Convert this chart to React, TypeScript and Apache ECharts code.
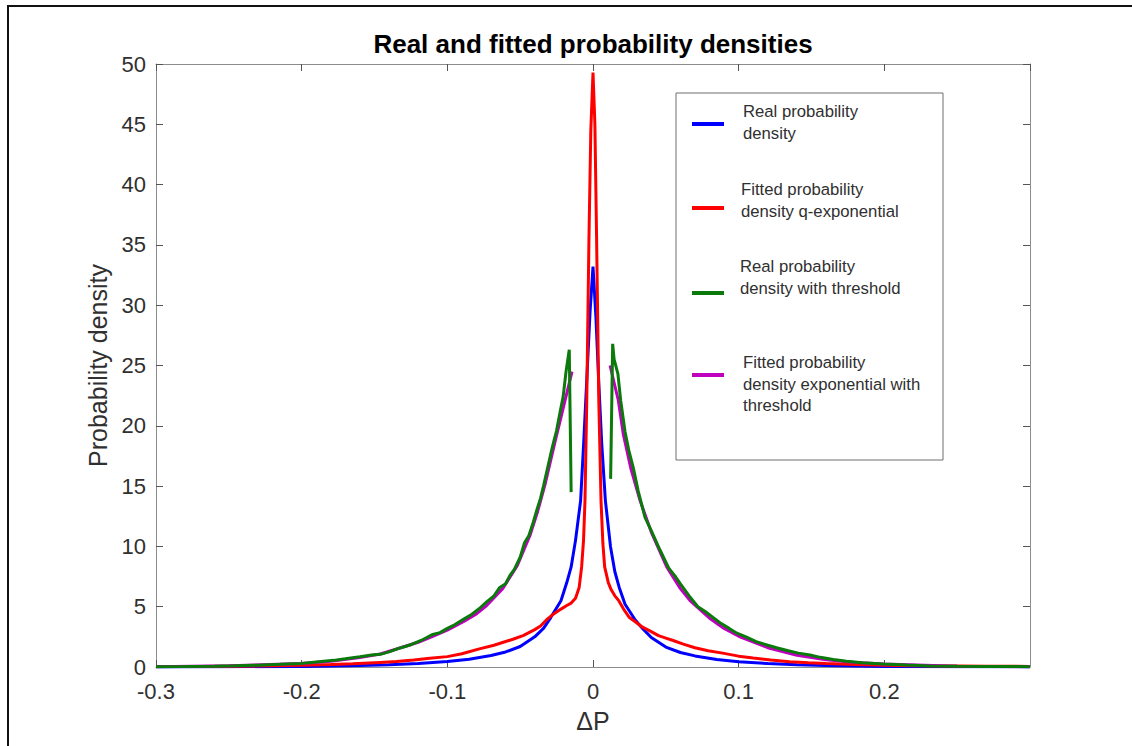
import React, { useEffect, useRef } from "react";
import * as echarts from "echarts";

const TITLE = "Real and fitted probability densities";
const X_NAME = "ΔP";
const Y_NAME = "Probability density";
const SERIES_NAMES = [
  "Real probability\ndensity",
  "Fitted probability\ndensity q-exponential",
  "Real probability\ndensity with threshold",
  "Fitted probability\ndensity exponential with\nthreshold",
];
const SERIES_COLORS = ["#0000ff", "#ff0000", "#0a7a0a", "#bf00bf"];
const X_TICKS = [-0.3, -0.2, -0.1, 0, 0.1, 0.2];
const Y_TICKS = [0, 5, 10, 15, 20, 25, 30, 35, 40, 45, 50];

// Real probability density (blue)
const realDensity: [number, number][] = [
  [-0.3, 0.01], [-0.25, 0.02], [-0.2, 0.05], [-0.18, 0.08], [-0.16, 0.12], [-0.14, 0.19],
  [-0.12, 0.3], [-0.1, 0.45], [-0.085, 0.65], [-0.07, 0.95], [-0.06, 1.25], [-0.05, 1.7],
  [-0.04, 2.5], [-0.034, 3.2], [-0.029, 4.1], [-0.022, 5.5], [-0.018, 7.0], [-0.015, 8.3],
  [-0.012, 10.5], [-0.0085, 13.8], [-0.0063, 18.8], [-0.004, 24.5], [-0.002, 29.5], [0, 33.2],
  [0.002, 29.0], [0.004, 23.5], [0.006, 18.5], [0.0085, 13.8], [0.012, 10.0], [0.015, 7.9],
  [0.018, 6.6], [0.022, 5.2], [0.029, 3.9], [0.034, 3.2], [0.04, 2.45], [0.05, 1.65],
  [0.06, 1.2], [0.07, 0.92], [0.085, 0.63], [0.1, 0.44], [0.12, 0.29], [0.14, 0.19],
  [0.16, 0.12], [0.18, 0.08], [0.2, 0.05], [0.25, 0.02], [0.2999, 0.01],
];

// Fitted probability density q-exponential (red)
const fittedQExp: [number, number][] = [
  [-0.3, 0.04], [-0.27, 0.05], [-0.25, 0.07], [-0.22, 0.1], [-0.2, 0.14], [-0.18, 0.2],
  [-0.165, 0.26], [-0.146, 0.38], [-0.135, 0.45], [-0.123, 0.58], [-0.112, 0.72], [-0.1, 0.86],
  [-0.09, 1.1], [-0.078, 1.5], [-0.068, 1.8], [-0.055, 2.3], [-0.048, 2.6], [-0.04, 3.1],
  [-0.036, 3.4], [-0.032, 3.9], [-0.027, 4.4], [-0.022, 4.8], [-0.018, 5.1], [-0.015, 5.3],
  [-0.012, 5.7], [-0.0095, 6.6], [-0.0078, 8.3], [-0.0065, 10.5], [-0.0055, 13.8], [-0.0043, 22],
  [-0.0028, 35.3], [-0.0015, 44.5], [0, 49.3], [0.0013, 45], [0.0025, 35.3], [0.004, 22],
  [0.0055, 13.8], [0.0068, 10.2], [0.008, 8.3], [0.0105, 7.0], [0.0125, 6.4], [0.015, 5.9],
  [0.0177, 5.5], [0.021, 4.8], [0.025, 4.1], [0.029, 3.75], [0.034, 3.3], [0.039, 3.0],
  [0.045, 2.6], [0.05, 2.4], [0.055, 2.2], [0.062, 1.9], [0.07, 1.6], [0.079, 1.35],
  [0.089, 1.15], [0.1, 0.9], [0.11, 0.75], [0.122, 0.58], [0.135, 0.43], [0.148, 0.36],
  [0.16, 0.3], [0.18, 0.21], [0.2, 0.15], [0.22, 0.11], [0.25, 0.08], [0.27, 0.06], [0.2999, 0.05],
];

// Real probability density with threshold (green), negative branch
const realThresholdNeg: [number, number][] = [
  [-0.3, 0.03], [-0.28, 0.04], [-0.26, 0.07], [-0.246, 0.1], [-0.23, 0.15], [-0.215, 0.22],
  [-0.2, 0.3], [-0.19, 0.42], [-0.178, 0.55], [-0.17, 0.68], [-0.16, 0.85], [-0.152, 1.0],
  [-0.146, 1.05], [-0.14, 1.25], [-0.132, 1.6], [-0.125, 1.85], [-0.118, 2.2], [-0.11, 2.7],
  [-0.105, 2.85], [-0.1, 3.2], [-0.095, 3.5], [-0.089, 3.95], [-0.084, 4.3], [-0.078, 4.85],
  [-0.073, 5.4], [-0.068, 5.9], [-0.064, 6.6], [-0.06, 6.9], [-0.057, 7.6], [-0.054, 8.1],
  [-0.05, 9.1], [-0.047, 10.3], [-0.044, 10.9], [-0.041, 12.0], [-0.0386, 13.0], [-0.036, 14.0],
  [-0.034, 15.0], [-0.031, 16.6], [-0.028, 18.2], [-0.025, 19.6], [-0.0225, 21.2],
  [-0.0205, 22.4], [-0.0185, 24.5], [-0.0163, 26.3], [-0.015, 14.5],
];
// Real probability density with threshold (green), positive branch
const realThresholdPos: [number, number][] = [
  [0.0121, 15.6], [0.0135, 26.8], [0.0145, 25.5], [0.0171, 24.3], [0.019, 22.1], [0.022, 19.5],
  [0.0245, 18.0], [0.0277, 16.5], [0.031, 14.6], [0.0357, 12.4], [0.04, 11.3], [0.046, 9.7],
  [0.052, 8.2], [0.056, 7.6], [0.06, 6.9], [0.066, 5.9], [0.072, 5.0], [0.077, 4.6],
  [0.0824, 4.1], [0.088, 3.6], [0.0935, 3.2], [0.0988, 2.8], [0.105, 2.5], [0.112, 2.1],
  [0.12, 1.8], [0.126, 1.6], [0.134, 1.35], [0.141, 1.15], [0.149, 1.0], [0.156, 0.8],
  [0.165, 0.62], [0.174, 0.47], [0.185, 0.35], [0.199, 0.25], [0.215, 0.16], [0.231, 0.09],
  [0.25, 0.06], [0.27, 0.04], [0.2999, 0.03],
];

// Fitted probability density exponential with threshold (magenta)
const fittedExpNeg: [number, number][] = [
  [-0.3, 0.03], [-0.25, 0.1], [-0.2, 0.3], [-0.18, 0.48], [-0.16, 0.78], [-0.146, 1.08],
  [-0.132, 1.6], [-0.12, 2.05], [-0.11, 2.55], [-0.1, 3.05], [-0.089, 3.75], [-0.08, 4.4],
  [-0.073, 5.1], [-0.062, 6.5], [-0.052, 8.4], [-0.043, 11.0], [-0.038, 12.9], [-0.033, 15.1],
  [-0.026, 18.7], [-0.021, 21.2], [-0.0174, 23.0], [-0.0144, 24.5],
];
const fittedExpPos: [number, number][] = [
  [0.0117, 25.0], [0.0174, 22.1], [0.0208, 19.3], [0.0259, 16.5], [0.0323, 13.8],
  [0.0403, 11.1], [0.0506, 8.3], [0.06, 6.5], [0.0666, 5.5], [0.08, 4.05], [0.09, 3.2],
  [0.1, 2.55], [0.12, 1.6], [0.14, 0.98], [0.16, 0.6], [0.18, 0.38], [0.2, 0.24],
  [0.25, 0.07], [0.2999, 0.02],
];

const FONT = '"Liberation Sans", Arial, Helvetica, sans-serif';
const AXIS_COLOR = "#8c8c8c";
const TEXT_COLOR = "#303030";

export default function App() {
  const ref = useRef<HTMLDivElement>(null);
  useEffect(() => {
    if (!ref.current) return;
    const chart = echarts.init(ref.current, undefined, { renderer: "svg" });

    const line = (name: string, data: [number, number][], color: string, z: number) => ({
      name,
      type: "line",
      data,
      showSymbol: false,
      symbol: "none",
      clip: true,
      silent: true,
      z,
      lineStyle: { color, width: 3 },
      itemStyle: { color },
    });

    const fmtX = (v: number) => {
      const r = Number(v.toFixed(4));
      if (!X_TICKS.some((t) => Math.abs(t - r) < 1e-6)) return "";
      return r === 0 ? "0" : String(r);
    };
    const fmtY = (v: number) => {
      const r = Number(v.toFixed(4));
      return Y_TICKS.some((t) => Math.abs(t - r) < 1e-6) ? String(r) : "";
    };

    const legendTop = [101, 179, 256, 352];
    const legendLineY = [124, 208, 293, 375];
    const legendTextX = [743, 741, 740, 743];
    const legendGraphics: any[] = [
      {
        type: "rect",
        shape: { x: 676, y: 93, width: 267, height: 367 },
        style: { fill: "#ffffff", stroke: "#6e6e6e", lineWidth: 1 },
        z: 10,
      },
    ];
    SERIES_NAMES.forEach((name, i) => {
      legendGraphics.push({
        type: "line",
        shape: { x1: 692, y1: legendLineY[i], x2: 724, y2: legendLineY[i] },
        style: { stroke: SERIES_COLORS[i], lineWidth: 4 },
        z: 11,
      });
      legendGraphics.push({
        type: "text",
        x: legendTextX[i],
        y: legendTop[i],
        style: {
          text: name,
          fill: TEXT_COLOR,
          fontSize: 16.7,
          fontFamily: FONT,
          lineHeight: 21.5,
          verticalAlign: "top",
          align: "left",
        },
        z: 11,
      });
    });

    const xBase = {
      type: "value",
      min: -0.3,
      max: 0.3,
      interval: 0.1,
      splitLine: { show: false },
      axisLine: { show: true, onZero: false, lineStyle: { color: AXIS_COLOR, width: 1 } },
      axisTick: { show: true, inside: true, length: 7, lineStyle: { color: "#555" } },
    };
    const yBase = {
      type: "value",
      min: 0,
      max: 50,
      interval: 5,
      splitLine: { show: false },
      axisLine: { show: true, onZero: false, lineStyle: { color: AXIS_COLOR, width: 1 } },
      axisTick: { show: true, inside: true, length: 7, lineStyle: { color: "#555" } },
    };

    chart.setOption({
      animation: false,
      backgroundColor: "#ffffff",
      title: {
        text: TITLE,
        left: 593,
        top: 31,
        padding: 0,
        textAlign: "center",
        textStyle: { fontFamily: FONT, fontSize: 26, fontWeight: "bold", color: "#000" },
      },
      grid: { left: 156, right: 102, top: 64, bottom: 79, containLabel: false },
      xAxis: [
        {
          ...xBase,
          position: "bottom",
          name: X_NAME,
          nameLocation: "middle",
          nameGap: 41,
          nameTextStyle: { fontFamily: FONT, fontSize: 25, color: TEXT_COLOR },
          axisLabel: {
            show: true,
            margin: 13,
            fontSize: 22,
            fontFamily: FONT,
            color: TEXT_COLOR,
            showMaxLabel: false,
            formatter: fmtX,
          },
        },
        { ...xBase, position: "top", axisLabel: { show: false } },
      ],
      yAxis: [
        {
          ...yBase,
          position: "left",
          name: Y_NAME,
          nameLocation: "middle",
          nameGap: 37,
          nameTextStyle: { fontFamily: FONT, fontSize: 25, color: TEXT_COLOR },
          axisLabel: {
            show: true,
            margin: 10,
            fontSize: 22,
            fontFamily: FONT,
            color: TEXT_COLOR,
            formatter: fmtY,
          },
        },
        { ...yBase, position: "right", axisLabel: { show: false } },
      ],
      graphic: [
        {
          type: "rect",
          shape: { x: 8, y: 6, width: 1300, height: 900 },
          style: { fill: "transparent", stroke: "#111111", lineWidth: 2 },
          silent: true,
          z: 20,
        },
        ...legendGraphics,
      ],
      series: [
        line(SERIES_NAMES[0], realDensity, SERIES_COLORS[0], 2),
        line(SERIES_NAMES[1], fittedQExp, SERIES_COLORS[1], 3),
        line(SERIES_NAMES[3], fittedExpNeg, SERIES_COLORS[3], 4),
        line(SERIES_NAMES[3], fittedExpPos, SERIES_COLORS[3], 4),
        line(SERIES_NAMES[2], realThresholdNeg, SERIES_COLORS[2], 5),
        line(SERIES_NAMES[2], realThresholdPos, SERIES_COLORS[2], 5),
      ],
    });

    return () => chart.dispose();
  }, []);

  return (
    <div
      ref={ref}
      style={{ position: "absolute", left: 0, top: 0, width: 1132, height: 746, background: "#fff" }}
    />
  );
}
